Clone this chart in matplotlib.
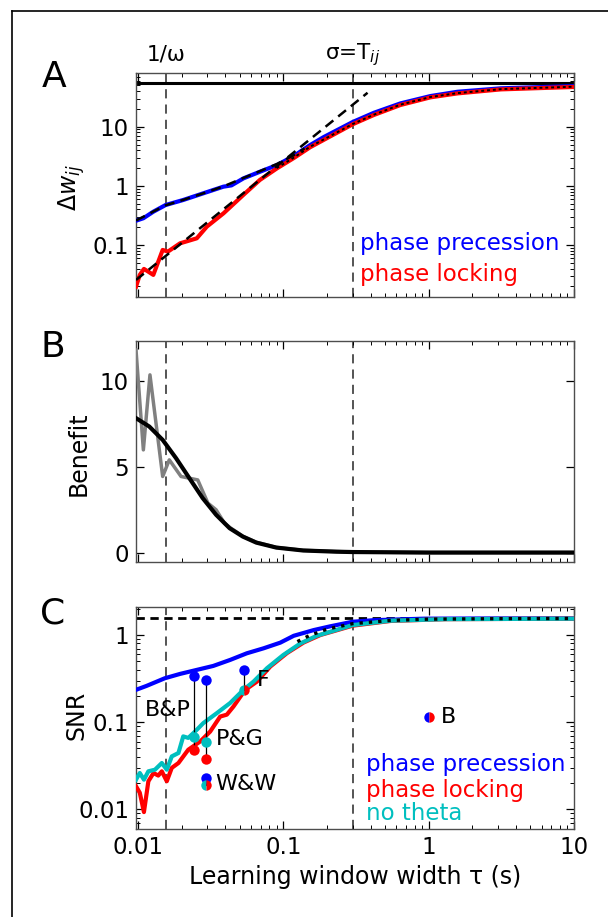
import matplotlib
matplotlib.use("Agg")
import matplotlib.pyplot as plt
from matplotlib.lines import Line2D
from matplotlib.ticker import LogLocator, NullFormatter, FixedLocator

plt.rcParams['font.family'] = ['DejaVu Sans']
plt.rcParams['mathtext.fontset'] = 'dejavusans'

# ---------------- data ----------------
inv_omega = 0.0157
sigma_T = 0.3

# Panel A
tauA_pp = [0.0097, 0.0109, 0.01276, 0.0155, 0.0205, 0.0282, 0.0387, 0.044, 0.0532, 0.0693, 0.0905,
           0.118, 0.153, 0.19, 0.3, 0.42, 0.64, 1.03, 1.58, 3.14, 10]
A_pp = [0.258, 0.284, 0.366, 0.475, 0.578, 0.75, 0.97, 1.02, 1.34, 1.74, 2.25,
        3.2, 4.9, 6.7, 12.0, 17.2, 24.8, 33.0, 39.0, 44.6, 48.6]
tauA_pl = [0.0097, 0.0103, 0.0110, 0.01177, 0.01276, 0.0148, 0.0161, 0.0195, 0.0254, 0.0298, 0.0388,
           0.053, 0.069, 0.0905, 0.118, 0.153, 0.19, 0.3, 0.42, 0.64, 1.03, 1.58, 3.14, 10]
A_pl = [0.0198, 0.0313, 0.0395, 0.0356, 0.0313, 0.0826, 0.0776, 0.107, 0.130, 0.205, 0.344,
        0.70, 1.26, 1.98, 2.95, 4.5, 6.0, 11.0, 15.8, 23.3, 31.4, 36.6, 42.8, 47.0]
tauA_ppfit = [0.0097, 0.0155, 0.0205, 0.0282, 0.0387, 0.0532, 0.0693, 0.0905, 0.118, 0.14]
A_ppfit = [0.26, 0.47, 0.58, 0.75, 0.98, 1.36, 1.78, 2.35, 3.3, 4.3]
tauA_plfit = [0.0097, 0.38]
A_plfit = [0.0257, 37.5]
tauA_th = [0.09, 0.118, 0.153, 0.19, 0.3, 0.42, 0.64, 1.03, 1.58, 3.14, 10]
A_th = [2.0, 3.0, 4.6, 6.1, 11.1, 16.0, 23.6, 31.8, 37.0, 43.2, 47.5]
A_max = 54

# Panel B
tauB_sim = [0.0097, 0.0109, 0.0121, 0.0148, 0.01644, 0.0198, 0.0258, 0.0303, 0.0345, 0.0394,
            0.0431, 0.0527, 0.0652, 0.0895, 0.137, 0.232, 0.3, 1, 3, 10]
B_sim = [11.8, 5.98, 10.35, 4.43, 5.4, 4.43, 4.23, 2.88, 2.49, 1.71,
         1.45, 0.95, 0.6, 0.3, 0.13, 0.06, 0.03, 0.0, 0.0, 0.0]
tauB_th = [0.0097, 0.01197, 0.0148, 0.01828, 0.0226, 0.0279, 0.0345, 0.0427, 0.0527, 0.0652,
           0.0895, 0.137, 0.232, 0.3, 1, 10]
B_th = [7.83, 7.34, 6.56, 5.50, 4.33, 3.17, 2.20, 1.42, 0.93, 0.58,
        0.29, 0.12, 0.05, 0.03, 0.0, 0.0]

# Panel C
tauC_pp = [0.0097, 0.01148, 0.0153, 0.0195, 0.0254, 0.033, 0.0431, 0.0561, 0.0732, 0.0953,
           0.118, 0.162, 0.211, 0.3, 0.42, 0.93, 3, 10]
C_pp = [0.235, 0.261, 0.319, 0.358, 0.398, 0.442, 0.518, 0.617, 0.704, 0.817,
        0.98, 1.14, 1.26, 1.42, 1.48, 1.54, 1.55, 1.55]
tauC_pl = [0.0097, 0.0103, 0.011, 0.0118, 0.0128, 0.0138, 0.0146, 0.0158, 0.0171, 0.019,
           0.0222, 0.0268, 0.0314, 0.0368, 0.0409, 0.0454, 0.0547, 0.0659, 0.0813, 0.106,
           0.138, 0.18, 0.3, 0.547, 1.3, 10]
C_pl = [0.0184, 0.0155, 0.0093, 0.021, 0.0261, 0.0244, 0.0273, 0.021, 0.0299, 0.034,
        0.0483, 0.060, 0.078, 0.116, 0.122, 0.151, 0.235, 0.292, 0.434, 0.62,
        0.82, 1.0, 1.28, 1.45, 1.52, 1.54]
tauC_nt = [0.0097, 0.0103, 0.011, 0.0118, 0.0131, 0.0146, 0.0158, 0.0171, 0.019, 0.0205,
           0.0222, 0.0247, 0.0282, 0.0349, 0.0431, 0.0532, 0.0624, 0.0772, 0.1, 0.131,
           0.17, 0.3, 0.547, 1.3, 10]
C_nt = [0.0219, 0.0261, 0.0219, 0.0273, 0.0285, 0.034, 0.0285, 0.0405, 0.0443, 0.0687,
        0.066, 0.078, 0.0977, 0.127, 0.166, 0.235, 0.292, 0.416, 0.59, 0.80,
        0.98, 1.30, 1.46, 1.52, 1.54]
tauC_th = [0.125, 0.15, 0.2, 0.3, 0.55, 1.0, 3, 10]
C_th = [0.84, 0.98, 1.17, 1.35, 1.47, 1.52, 1.54, 1.55]
C_max = 1.58

# experimental windows
exp_names = ['B&P', 'P&G', 'W&W', 'F', 'B']
exp_tau = [0.0243, 0.0294, 0.0294, 0.0541, 1.0]
exp_pp = [0.34, 0.306, 0.0226, 0.398, None]
exp_nt = [0.0675, 0.0586, None, None, None]
exp_pl = [0.0483, 0.0378, None, None, None]
exp_split_nt_pl = [None, None, 0.0192, 0.235, None]
exp_split_pp_pl = [None, None, None, None, 0.114]

# ---------------- figure ----------------
W, H = 608, 917
fig = plt.figure(figsize=(W / 100, H / 100), dpi=100)

def ax_rect(l, r, t, b):
    return [l / W, 1 - b / H, (r - l) / W, (b - t) / H]

axA = fig.add_axes(ax_rect(136, 574, 73.3, 296.7))
axB = fig.add_axes(ax_rect(136, 574, 340.5, 562))
axC = fig.add_axes(ax_rect(136, 574, 607.3, 829.3))

BLUE = (0, 0, 1)
RED = (1, 0, 0)
CYAN = (0, 0.75, 0.75)
TICKFS = 16.5
LABFS = 17
LEGFS = 16.5

for ax in (axA, axB, axC):
    ax.set_xscale('log')
    ax.set_xlim(0.0097, 10)
    ax.tick_params(which='both', direction='in', top=True, right=True, labelsize=TICKFS)
    ax.tick_params(which='major', length=5.8, width=0.9, pad=5)
    ax.tick_params(which='minor', length=2.9, width=0.7)
    for s in ax.spines.values():
        s.set_color('0.3')
        s.set_linewidth(1.0)
    ax.axvline(inv_omega, color='0.15', lw=1.1, ls=(0, (6, 4)), zorder=1)
    ax.axvline(sigma_T, color='0.15', lw=1.1, ls=(0, (6, 4)), zorder=1)
    ax.xaxis.set_major_locator(FixedLocator([0.01, 0.1, 1, 10]))
    ax.xaxis.set_minor_locator(LogLocator(base=10, subs=range(2, 10)))
    ax.xaxis.set_minor_formatter(NullFormatter())

axA.set_xticklabels([])
axB.set_xticklabels([])
axC.set_xticklabels(['0.01', '0.1', '1', '10'])

# ---- Panel A ----
axA.set_yscale('log')
axA.set_ylim(0.0134, 80)
axA.axhline(A_max, color='k', lw=2.2, zorder=2)
axA.plot(tauA_pp, A_pp, color=BLUE, lw=3, zorder=3)
axA.plot(tauA_pl, A_pl, color=RED, lw=3, zorder=3)
axA.plot(tauA_ppfit, A_ppfit, color='k', lw=1.8, ls=(0, (4, 2.5)), zorder=4)
axA.plot(tauA_plfit, A_plfit, color='k', lw=1.8, ls=(0, (4, 2.5)), zorder=4)
axA.plot(tauA_th, A_th, color='k', lw=1.4, ls=(0, (1.5, 1.5)), zorder=4)
axA.yaxis.set_major_locator(FixedLocator([0.1, 1, 10]))
axA.set_yticklabels(['0.1', '1', '10'])
axA.yaxis.set_minor_locator(LogLocator(base=10, subs=range(2, 10)))
axA.yaxis.set_minor_formatter(NullFormatter())
axA.text(-0.146, 0.49, r'$\Delta w_{ij}$', rotation=90, fontsize=LABFS, transform=axA.transAxes,
         ha='center', va='center')
axA.text(0.511, 0.239, 'phase precession', color=BLUE, fontsize=LEGFS, transform=axA.transAxes,
         va='center', ha='left')
axA.text(0.511, 0.10, 'phase locking', color=RED, fontsize=LEGFS, transform=axA.transAxes,
         va='center', ha='left')
axA.text(inv_omega, 1.082, '1/ω', transform=axA.get_xaxis_transform(), ha='center',
         va='center', fontsize=15.5)
axA.text(sigma_T, 1.082, r'σ=T$_{ij}$', transform=axA.get_xaxis_transform(), ha='center',
         va='center', fontsize=15.5)

# ---- Panel B ----
axB.set_ylim(-0.55, 12.35)
axB.plot(tauB_sim, B_sim, color='0.5', lw=2.5, zorder=3)
axB.plot(tauB_th, B_th, color='k', lw=3, zorder=4)
axB.set_yticks([0, 5, 10])
axB.text(-0.131, 0.49, 'Benefit', rotation=90, fontsize=LABFS, transform=axB.transAxes,
         ha='center', va='center')

# ---- Panel C ----
axC.set_yscale('log')
axC.set_ylim(0.0059, 2.08)
axC.axhline(C_max, color='k', lw=2, ls=(0, (3, 2)), zorder=2)
axC.plot(tauC_pp, C_pp, color=BLUE, lw=3, zorder=3)
axC.plot(tauC_pl, C_pl, color=RED, lw=3, zorder=3)
axC.plot(tauC_nt, C_nt, color=CYAN, lw=3, zorder=3)
axC.plot(tauC_th, C_th, color='k', lw=2.4, ls=(0, (1, 1.8)), zorder=4)
axC.yaxis.set_major_locator(FixedLocator([0.01, 0.1, 1]))
axC.set_yticklabels(['0.01', '0.1', '1'])
axC.yaxis.set_minor_locator(LogLocator(base=10, subs=range(2, 10)))
axC.yaxis.set_minor_formatter(NullFormatter())
axC.text(-0.136, 0.515, 'SNR', rotation=90, fontsize=LABFS, transform=axC.transAxes,
         ha='center', va='center')
axC.set_xlabel('Learning window width τ (s)', fontsize=LABFS, labelpad=4)

MS = 7.5
for i, name in enumerate(exp_names):
    t = exp_tau[i]
    ys = [v for v in (exp_pp[i], exp_nt[i], exp_pl[i], exp_split_nt_pl[i]) if v is not None]
    if exp_pp[i] is not None and len(ys) > 1:
        axC.plot([t, t], [max(ys), min(ys)], color='k', lw=0.9, zorder=5)
    if exp_pp[i] is not None:
        axC.plot(t, exp_pp[i], 'o', ms=MS, color=BLUE, mec='none', zorder=6)
    if exp_nt[i] is not None:
        axC.plot(t, exp_nt[i], 'o', ms=MS, color=CYAN, mec='none', zorder=6)
    if exp_pl[i] is not None:
        axC.plot(t, exp_pl[i], 'o', ms=MS, color=RED, mec='none', zorder=6)
    if exp_split_nt_pl[i] is not None:
        axC.plot(t, exp_split_nt_pl[i], 'o', ms=MS, color=CYAN, fillstyle='left',
                 markerfacecoloralt=RED, mec='none', zorder=6)
    if exp_split_pp_pl[i] is not None:
        axC.plot(t, exp_split_pp_pl[i], 'o', ms=MS, color=BLUE, fillstyle='left',
                 markerfacecoloralt=RED, mec='none', zorder=6)

LFS = 16
axC.annotate('B&P', (exp_tau[0], exp_pp[0]), xytext=(-19, -24.5), textcoords='offset points',
             ha='center', va='center', fontsize=LFS)
axC.annotate('P&G', (exp_tau[1], exp_nt[1]), xytext=(24.5, 2.7), textcoords='offset points',
             ha='center', va='center', fontsize=LFS)
axC.annotate('W&W', (exp_tau[2], exp_split_nt_pl[2]), xytext=(29, 0.7), textcoords='offset points',
             ha='center', va='center', fontsize=LFS)
axC.annotate('F', (exp_tau[3], exp_pp[3]), xytext=(13.2, -7.2), textcoords='offset points',
             ha='center', va='center', fontsize=LFS)
axC.annotate('B', (exp_tau[4], exp_split_pp_pl[4]), xytext=(14.6, 0), textcoords='offset points',
             ha='center', va='center', fontsize=LFS)

axC.text(0.524, 0.294, 'phase precession', color=BLUE, fontsize=LEGFS, transform=axC.transAxes,
         va='center', ha='left')
axC.text(0.524, 0.174, 'phase locking', color=RED, fontsize=LEGFS, transform=axC.transAxes,
         va='center', ha='left')
axC.text(0.524, 0.069, 'no theta', color=CYAN, fontsize=LEGFS, transform=axC.transAxes,
         va='center', ha='left')

# panel letters
fig.text(54 / W, 1 - 77 / H, 'A', fontsize=26, ha='center', va='center')
fig.text(53 / W, 1 - 347 / H, 'B', fontsize=26, ha='center', va='center')
fig.text(53 / W, 1 - 613 / H, 'C', fontsize=26, ha='center', va='center')

# frame lines (left and top)
fig.add_artist(Line2D([11.5 / W, 11.5 / W], [0, 1 - 11 / H], color='k', lw=1.2))
fig.add_artist(Line2D([11.5 / W, 1], [1 - 11 / H, 1 - 11 / H], color='k', lw=1.2))

fig.savefig('out.png', dpi=100)
